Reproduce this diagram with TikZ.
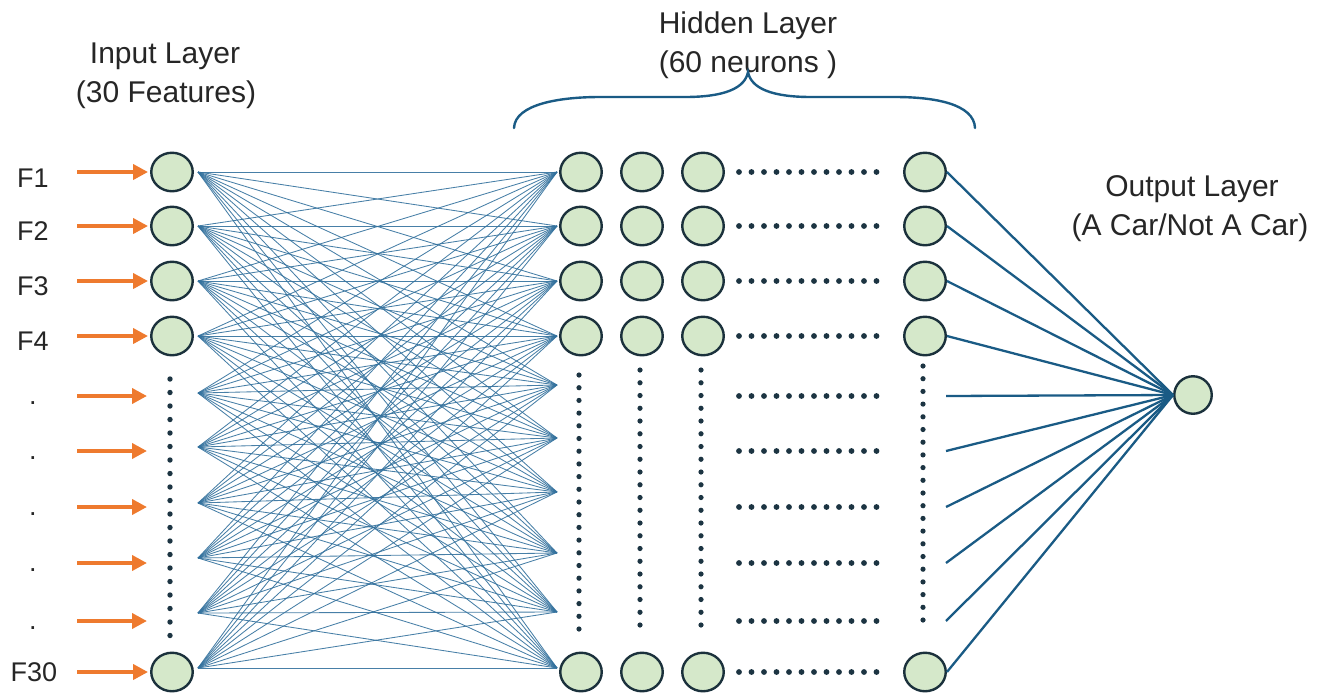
\documentclass[tikz,border=0pt]{standalone}
\usepackage{fontspec}
\setmainfont{Liberation Sans}
\usetikzlibrary{arrows.meta,shapes.geometric}

\definecolor{nodefill}{HTML}{D5E8CA}
\definecolor{nodeline}{HTML}{1B313C}
\definecolor{wire}{HTML}{33719D}
\definecolor{outwire}{HTML}{1A5B85}
\definecolor{feed}{HTML}{EE7A2E}
\definecolor{dotc}{HTML}{1C3442}
\definecolor{txt}{HTML}{262626}

\begin{document}
\begin{tikzpicture}[x=1pt,y=-1pt,
  neuron/.style={ellipse,draw=nodeline,fill=nodefill,line width=2.4pt,
    minimum width=41.5pt,minimum height=38.5pt,inner sep=0pt},
  outneuron/.style={circle,draw=nodeline,fill=nodefill,line width=2.4pt,
    minimum size=37.5pt,inner sep=0pt},
  heading/.style={text=txt,font=\fontsize{30}{36}\selectfont,anchor=base,inner sep=0pt},
  flabel/.style={text=txt,font=\fontsize{27}{32}\selectfont,anchor=base,inner sep=0pt},
  wire/.style={draw=wire,line width=0.85pt,opacity=0.9},
  outline/.style={draw=outwire,line width=2.3pt},
  feedarrow/.style={draw=feed,line width=4.8pt,
    -{Triangle[length=15pt,width=15pt]},shorten >=2pt},
  bracepath/.style={draw=outwire,line width=2.4pt,line cap=round},
  dotfill/.style={fill=dotc}]

\useasboundingbox (0,0) rectangle (1322,697);

% ---------- headings ----------
\node[heading] (inA)  at (165,63)  {Input Layer};
\node[heading] (inB)  at (166,102) {(30 Features)};
\node[heading] (hidA) at (748,33)  {Hidden Layer};
\node[heading] (hidB) at (748,72)  {(60 neurons )};
\node[heading] (outA) at (1192,196) {Output Layer};
\node[heading] (outB) at (1190,235) {(A Car/Not A Car)};

% ---------- brace over the hidden layer ----------
\draw[bracepath] (514,128) .. controls (515,104) and (560,97) .. (600,97)
  -- (685,97) .. controls (725,97) and (745,88) .. (748,72)
  .. controls (751,88) and (771,97) .. (811,97)
  -- (895,97) .. controls (935,97) and (974,104) .. (975,128);

% ---------- input neurons ----------
\node[neuron] (in1)  at (172,172) {};
\node[neuron] (in2)  at (172,226) {};
\node[neuron] (in3)  at (172,281) {};
\node[neuron] (in4)  at (172,336) {};
\node[neuron] (in30) at (172,672) {};

% vertical dots of the input column
\foreach \k in {0,...,19}
  \fill[dotfill] (170,379+\k*13.5) circle (2.7);

% ---------- feature labels and input arrows ----------
\node[flabel] (f1)  at (33,187) {F1};
\node[flabel] (f2)  at (33,240) {F2};
\node[flabel] (f3)  at (33,295) {F3};
\node[flabel] (f4)  at (33,350) {F4};
\node[flabel] (f30) at (34,681) {F30};
\foreach \y [count=\i from 5] in {396,451,507,563,621}
  \node[flabel] (fd\i) at (33,\y+8) {.};

\foreach \y [count=\i] in {172,226,281,336,396,451,507,563,621,672}
  \coordinate (a\i) at (77,\y);
\foreach \y [count=\i from 5] in {396,451,507,563,621}
  \coordinate (t\i) at (149,\y);

\draw[feedarrow] (a1) -- (in1.west);
\draw[feedarrow] (a2) -- (in2.west);
\draw[feedarrow] (a3) -- (in3.west);
\draw[feedarrow] (a4) -- (in4.west);
\foreach \i in {5,...,9} \draw[feedarrow] (a\i) -- (t\i);
\draw[feedarrow] (a10) -- (in30.west);

% ---------- hidden neurons ----------
\foreach \y [count=\r] in {172,226,281,336}{
  \foreach \x [count=\c] in {581,642,703,925}
    \node[neuron] (h\r-\c) at (\x,\y) {};
}
\foreach \x [count=\c] in {581,642,703,925}
  \node[neuron] (h10-\c) at (\x,672) {};

% horizontal dots between the third and last hidden column
\foreach \y in {172,226,281,336,396,451,507,563,621,672}
  \foreach \k in {0,...,11}
    \fill[dotfill] (739+\k*12.5,\y) circle (2.9);

% vertical dots of the hidden columns
\foreach \k in {0,...,20}{
  \fill[dotfill] (579,375+\k*12.7) circle (2.6);
  \fill[dotfill] (640,370+\k*12.75) circle (2.6);
  \fill[dotfill] (701,370+\k*12.75) circle (2.6);
  \fill[dotfill] (923,366+\k*12.7) circle (2.6);
}

% ---------- fully connected wires: input -> first hidden column ----------
\foreach \y [count=\i] in {172,226,281,336,393,447,503,558,613,668}
  \coordinate (L\i) at (198,\y);
\foreach \y [count=\i] in {172,226,281,336,385,438,492,553,612,668}
  \coordinate (R\i) at (557,\y);
\foreach \a in {1,...,10}
  \foreach \b in {1,...,10}
    \draw[wire] (L\a) -- (R\b);

% ---------- output neuron and its wires ----------
\node[outneuron] (out) at (1193,395) {};

\foreach \y [count=\i from 5] in {396,451,507,563,621}
  \coordinate (c\i) at (946,\y);

\foreach \r in {1,...,4}
  \draw[outline] (h\r-4.east) -- (out.west);
\foreach \i in {5,...,9}
  \draw[outline] (c\i) -- (out.west);
\draw[outline] (h10-4.east) -- (out.west);

\end{tikzpicture}
\end{document}
